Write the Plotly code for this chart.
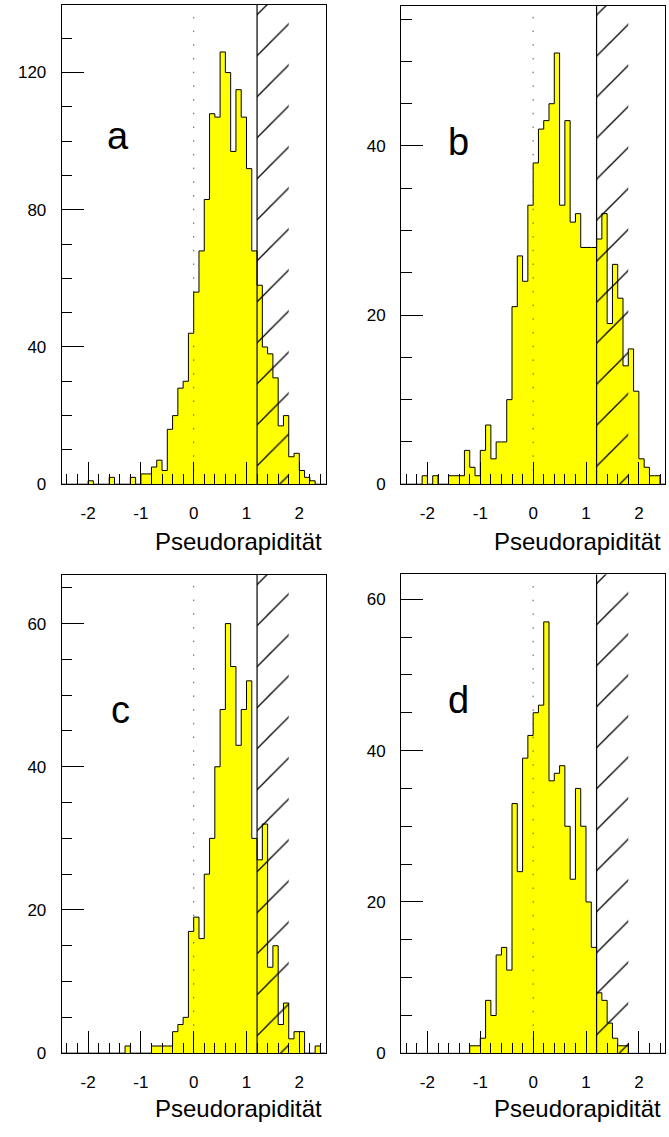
import numpy as np
import plotly.graph_objects as go

# ---------------- data ----------------
bin_lo = -2.5
bin_w = 0.1
n_bins = 50

counts_a = [0, 0, 0, 0, 0, 1, 0, 0, 0, 2,
            0, 0, 0, 2, 0, 3, 3, 5, 7, 4,
            16, 20, 28, 30, 44, 56, 68, 83, 108, 107,
            126, 120, 97, 115, 107, 92, 68, 58, 40, 38,
            31, 17, 20, 8, 9, 4, 2, 1, 0, 0]
counts_b = [0, 0, 0, 0, 1, 0, 1, 0, 0, 1,
            1, 1, 4, 2, 1, 4, 7, 3, 5, 5,
            10, 21, 27, 24, 33, 38, 42, 43, 45, 51,
            33, 43, 31, 32, 28, 28, 28, 29, 32, 19,
            26, 22, 14, 16, 11, 3, 2, 1, 1, 0]
counts_c = [0, 0, 0, 0, 0, 0, 0, 0, 0, 0,
            0, 0, 1, 0, 0, 0, 0, 1, 1, 1,
            1, 3, 4, 5, 17, 19, 16, 25, 30, 40,
            48, 60, 54, 43, 48, 52, 30, 27, 32, 12,
            15, 4, 7, 2, 3, 3, 0, 0, 1, 0]
counts_d = [0, 0, 0, 0, 0, 0, 0, 0, 0, 0,
            0, 0, 0, 1, 1, 2, 7, 5, 13, 14,
            11, 33, 24, 39, 42, 45, 46, 57, 36, 37,
            38, 30, 23, 35, 30, 20, 14, 8, 7, 4,
            2, 1, 1, 0, 0, 0, 0, 0, 0, 0]

panel_labels = ["a", "b", "c", "d"]
y_max = [139.7, 56.6, 66.8, 63.3]
y_dtick = [40, 20, 20, 20]
y_minor = [10, 5, 5, 5]
x_tick_vals = [-2, -1, 0, 1, 2]
x_tick_text = ["-2", "-1", "0", "1", "2"]
x_title = "Pseudorapidität"
cut_lo = 1.2
cut_hi = 1.8
x_range = [-2.5, 2.5]

# ---------------- layout geometry (pixels) ----------------
W, H = 669, 1137
panels_px = [  # left, right, top, bottom
    (61.7, 325.7, 5.0, 488.5),
    (401.0, 665.3, 5.7, 488.5),
    (61.7, 325.7, 580.0, 1062.5),
    (401.0, 665.3, 579.3, 1062.7),
]
letter_px = [(118, 137.5), (458.7, 143.4), (120, 716.7), (458, 706.7)]
title_px = [(323.5, 546.5), (663.3, 546.5), (323.5, 1118.0), (663.3, 1118.0)]

FONT = "Liberation Sans, Arial, Helvetica, sans-serif"

all_counts = [counts_a, counts_b, counts_c, counts_d]
edges = np.round(bin_lo + bin_w * np.arange(n_bins + 1), 3)

fig = go.Figure()
annotations = []
layout_axes = {}

for i, counts in enumerate(all_counts):
    sfx = "" if i == 0 else str(i + 1)
    xa, ya = "x" + sfx, "y" + sfx
    ymax = y_max[i]

    # histogram outline + fill
    fig.add_trace(go.Scatter(
        x=edges, y=list(counts) + [counts[-1]],
        mode="lines", line=dict(shape="hv", color="black", width=1),
        fill="tozeroy", fillcolor="#ffff00",
        xaxis=xa, yaxis=ya, showlegend=False, hoverinfo="skip"))

    # dotted line at zero
    fig.add_trace(go.Scatter(
        x=[0, 0], y=[0, ymax], mode="lines",
        line=dict(color="#555555", width=1, dash="1.5px,12.2px"),
        xaxis=xa, yaxis=ya, showlegend=False, hoverinfo="skip"))

    # hatched region
    fig.add_trace(go.Scatter(
        x=[cut_lo, cut_hi, cut_hi, cut_lo, cut_lo],
        y=[0, 0, ymax, ymax, 0], mode="lines",
        fill="toself", fillcolor="rgba(0,0,0,0)",
        fillpattern=dict(shape="/", fgcolor="black", bgcolor="rgba(0,0,0,0)",
                         fgopacity=1, size=29, solidity=0.045),
        line=dict(width=0, color="rgba(0,0,0,0)"),
        xaxis=xa, yaxis=ya, showlegend=False, hoverinfo="skip"))

    # cut line
    fig.add_trace(go.Scatter(
        x=[cut_lo, cut_lo], y=[0, ymax], mode="lines",
        line=dict(color="black", width=1.2),
        xaxis=xa, yaxis=ya, showlegend=False, hoverinfo="skip"))

    l, r, t, b = panels_px[i]
    layout_axes["xaxis" + sfx] = dict(
        domain=[l / W, r / W], range=x_range, anchor=ya,
        showline=True, mirror=True, linecolor="black", linewidth=1,
        showgrid=False, zeroline=False,
        ticks="inside", ticklen=22, tickwidth=1, tickcolor="black",
        tickmode="array", tickvals=x_tick_vals, ticktext=x_tick_text,
        minor=dict(dtick=0.2, tick0=0, ticks="inside", ticklen=10,
                   tickwidth=1, tickcolor="black", showgrid=False),
        tickfont=dict(family=FONT, size=17, color="black"),
        ticklabelstandoff=13, fixedrange=True)
    layout_axes["yaxis" + sfx] = dict(
        domain=[1 - b / H, 1 - t / H], range=[0, ymax], anchor=xa,
        showline=True, mirror=True, linecolor="black", linewidth=1,
        showgrid=False, zeroline=False,
        ticks="inside", ticklen=22, tickwidth=1, tickcolor="black",
        dtick=y_dtick[i], tick0=0,
        minor=dict(dtick=y_minor[i], tick0=0, ticks="inside", ticklen=10.5,
                   tickwidth=1, tickcolor="black", showgrid=False),
        tickfont=dict(family=FONT, size=17, color="black"),
        ticklabelstandoff=11, fixedrange=True)

    lx, ly = letter_px[i]
    annotations.append(dict(
        text=panel_labels[i], x=lx / W, y=1 - ly / H, xref="paper", yref="paper",
        xanchor="center", yanchor="middle", showarrow=False,
        font=dict(family=FONT, size=38, color="black")))
    tx, ty = title_px[i]
    annotations.append(dict(
        text=x_title, x=tx / W, y=1 - ty / H, xref="paper", yref="paper",
        xanchor="right", yanchor="middle", showarrow=False,
        font=dict(family=FONT, size=24, color="black")))

fig.update_layout(
    width=W, height=H, margin=dict(l=0, r=0, t=0, b=0),
    paper_bgcolor="white", plot_bgcolor="white",
    annotations=annotations, showlegend=False, **layout_axes)

fig.write_html("out.html")
